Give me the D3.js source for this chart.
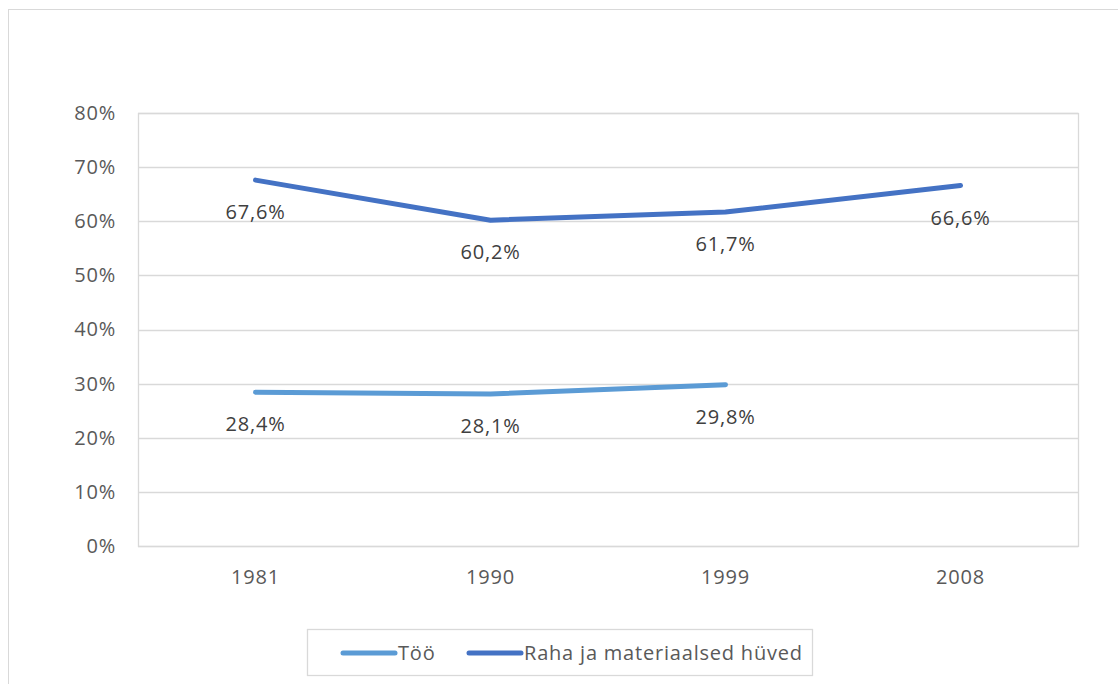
<!DOCTYPE html>
<html>
<head>
<meta charset="utf-8">
<script src="https://cdn.jsdelivr.net/npm/d3@7/dist/d3.min.js"></script>
<style>
  body { margin: 0; background: #fff; }
  text { font-family: "Open Sans", "Noto Sans", sans-serif; letter-spacing: 0.8px; }
</style>
</head>
<body>
<svg id="chart" width="1118" height="684"></svg>
<script>
// data
const years = ["1981", "1990", "1999", "2008"];
const tooValues = [28.4, 28.1, 29.8];
const rahaValues = [67.6, 60.2, 61.7, 66.6];
const yTicks = [0, 10, 20, 30, 40, 50, 60, 70, 80];
const seriesNames = ["Töö", "Raha ja materiaalsed hüved"];
const seriesColors = ["#5B9BD5", "#4472C4"];

const svg = d3.select("#chart");
const W = 1118, H = 684;

// outer chart frame
svg.append("rect")
    .attr("x", 8.5).attr("y", 9.5)
    .attr("width", W).attr("height", H)
    .attr("fill", "#fff")
    .attr("stroke", "#d9d9d9");

const margin = { left: 138, right: 40, top: 113, bottom: 138 };
const width = W - margin.left - margin.right;
const height = H - margin.top - margin.bottom;

const x = d3.scaleBand().domain(years).range([0, width]);
const y = d3.scaleLinear().domain([0, 80]).range([height, 0]);

const body = svg.append("g")
    .attr("transform", `translate(${margin.left},${margin.top})`);

// gridlines
body.append("g")
    .selectAll("line")
    .data(yTicks)
    .enter()
        .append("line")
        .attr("x1", 0).attr("x2", width)
        .attr("y1", d => Math.round(y(d)) + 0.5)
        .attr("y2", d => Math.round(y(d)) + 0.5)
        .attr("stroke", "#d9d9d9")
        .attr("stroke-width", 1.3);

// plot area frame
body.append("rect")
    .attr("x", 0.5).attr("y", 0.5)
    .attr("width", width).attr("height", height)
    .attr("fill", "none")
    .attr("stroke", "#d9d9d9")
    .attr("stroke-width", 1.3);

// y axis labels
const yAxis = body.append("g")
    .call(d3.axisLeft(y).tickValues(yTicks).tickSize(0).tickPadding(22)
        .tickFormat(d => d + "%"));
yAxis.select(".domain").remove();
yAxis.selectAll("text")
    .attr("fill", "#595959")
    .style("font-size", "20px");

// x axis labels
const xAxis = body.append("g")
    .attr("transform", `translate(0,${height})`)
    .call(d3.axisBottom(x).tickSize(0).tickPadding(24));
xAxis.select(".domain").remove();
xAxis.selectAll("text")
    .attr("fill", "#595959")
    .style("font-size", "20px");

// lines
const fmt = v => d3.format(".1f")(v).replace(".", ",") + "%";
const allSeries = [tooValues, rahaValues];
const line = d3.line()
    .x((d, i) => x(years[i]) + x.bandwidth() / 2)
    .y(d => y(d));

allSeries.forEach(function(values, s) {
    body.append("path")
        .datum(values)
        .attr("d", line)
        .attr("fill", "none")
        .attr("stroke", seriesColors[s])
        .attr("stroke-width", 5)
        .attr("stroke-linecap", "round")
        .attr("stroke-linejoin", "round");

    body.append("g")
        .selectAll("text")
        .data(values)
        .enter()
            .append("text")
            .attr("x", (d, i) => x(years[i]) + x.bandwidth() / 2)
            .attr("y", d => y(d) + 39)
            .attr("text-anchor", "middle")
            .attr("fill", "#404040")
            .style("font-size", "20px")
            .text(fmt);
});

// legend
const legend = svg.append("g");
legend.append("rect")
    .attr("x", 307.5).attr("y", 629.5)
    .attr("width", 505).attr("height", 46)
    .attr("fill", "#fff")
    .attr("stroke", "#d9d9d9")
    .attr("stroke-width", 1.3);
const legendX = [343, 469];
seriesNames.forEach(function(name, s) {
    legend.append("line")
        .attr("x1", legendX[s]).attr("x2", legendX[s] + 52)
        .attr("y1", 653).attr("y2", 653)
        .attr("stroke", seriesColors[s])
        .attr("stroke-width", 5)
        .attr("stroke-linecap", "round");
    legend.append("text")
        .attr("x", legendX[s] + 55)
        .attr("y", 660)
        .attr("fill", "#595959")
        .style("font-size", "20px")
        .text(name);
});
</script>
</body>
</html>
